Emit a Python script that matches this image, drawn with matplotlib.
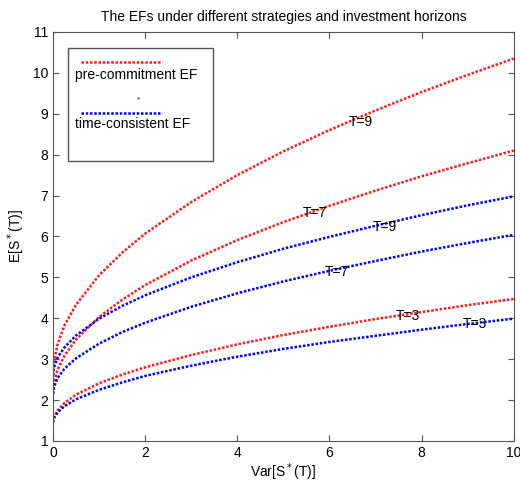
import matplotlib.pyplot as plt
from matplotlib.patches import Rectangle

plt.rcParams['font.family'] = ['Liberation Sans', 'DejaVu Sans']

# valores: Var[S*(T)] contra E[S*(T)]
var = [0, 0.02, 0.1, 0.25, 0.5, 1, 1.5, 2, 3, 4, 5, 6, 7, 8, 9, 10]

pre_T9 = [2.60, 2.95, 3.37, 3.83, 4.33, 5.05, 5.60, 6.07, 6.84, 7.50, 8.08, 8.60, 9.08, 9.53, 9.95, 10.35]
pre_T7 = [2.15, 2.42, 2.74, 3.09, 3.48, 4.03, 4.45, 4.81, 5.41, 5.91, 6.35, 6.75, 7.12, 7.47, 7.79, 8.10]
pre_T3 = [1.45, 1.58, 1.75, 1.93, 2.13, 2.41, 2.62, 2.80, 3.10, 3.36, 3.59, 3.79, 3.98, 4.15, 4.32, 4.47]

tc_T9 = [2.60, 2.80, 3.04, 3.29, 3.58, 3.99, 4.30, 4.56, 5.00, 5.37, 5.70, 5.99, 6.26, 6.52, 6.76, 6.98]
tc_T7 = [2.15, 2.32, 2.54, 2.77, 3.02, 3.38, 3.66, 3.89, 4.28, 4.61, 4.90, 5.16, 5.40, 5.63, 5.84, 6.04]
tc_T3 = [1.45, 1.56, 1.70, 1.85, 2.02, 2.25, 2.43, 2.59, 2.84, 3.06, 3.25, 3.42, 3.57, 3.72, 3.86, 3.99]

# etiquetas de horizonte (texto, x, y)
labels = [("T=9", 6.41, 8.79), ("T=7", 5.43, 6.58), ("T=3", 7.43, 4.05),
          ("T=9", 6.93, 6.22), ("T=7", 5.90, 5.12), ("T=3", 8.90, 3.85)]

fig = plt.figure(figsize=(5.2, 4.84), dpi=100)
ax = fig.add_axes([0.102, 0.089, 0.886, 0.845])

dots = (0, (1, 0.7))
lw = 1.8
for serie in [pre_T9, pre_T7, pre_T3]:
    ax.plot(var, serie, color="#ff1a1a", linestyle=dots, linewidth=lw)
for serie in [tc_T9, tc_T7, tc_T3]:
    ax.plot(var, serie, color="#0000ff", linestyle=dots, linewidth=lw)

for txt, x, y in labels:
    ax.text(x, y, txt, fontsize=10, ha="left", va="center")

ax.set_xlim(0, 10)
ax.set_ylim(1, 11)
ax.set_xticks([0, 2, 4, 6, 8, 10])
ax.set_yticks(range(1, 12))
ax.tick_params(direction="in", top=True, right=True, labelsize=10, length=4, color="#555555")
for s in ax.spines.values():
    s.set_color("#555555")

ax.set_title("The EFs under different strategies and investment horizons", fontsize=10, pad=8)
ax.set_xlabel("Var[S$^*$(T)]", fontsize=10, labelpad=1)
ax.set_ylabel("E[S$^*$(T)]", fontsize=10)

# leyenda estilo matlab
ax.add_patch(Rectangle((0.0325, 0.685), 0.3145, 0.276, transform=ax.transAxes,
                       facecolor="white", edgecolor="#555555", linewidth=1, zorder=5))
ax.plot([0.061, 0.236], [0.927, 0.927], transform=ax.transAxes, color="#ff1a1a",
        linestyle=dots, linewidth=lw, zorder=6)
ax.text(0.048, 0.895, "pre-commitment EF", transform=ax.transAxes, fontsize=10,
        va="center", zorder=6)
ax.plot([0.184], [0.839], transform=ax.transAxes, marker=".", markersize=1.5,
        color="#777777", zorder=6)
ax.plot([0.061, 0.236], [0.802, 0.802], transform=ax.transAxes, color="#0000ff",
        linestyle=dots, linewidth=lw, zorder=6)
ax.text(0.048, 0.775, "time-consistent EF", transform=ax.transAxes, fontsize=10,
        va="center", zorder=6)

plt.savefig("out.png", dpi=100)
